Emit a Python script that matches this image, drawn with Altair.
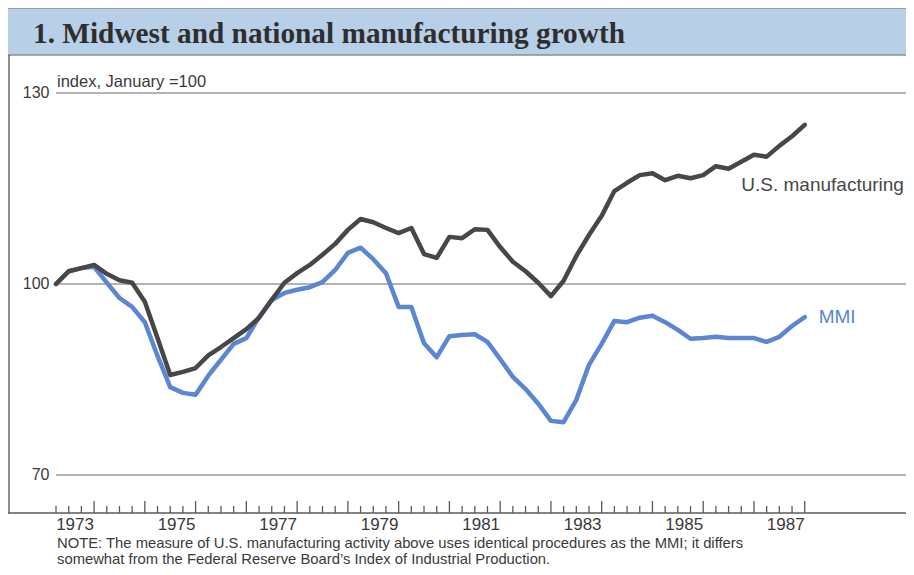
import altair as alt
import pandas as pd

# ---------------- data (quarterly, 1973Q1 .. 1987Q4, index Jan 1973 = 100) -------------
start_year = 1973
us_mfg = [100.0, 102.0, 102.5, 103.0, 101.6, 100.6, 100.2, 97.2, 91.5, 85.7,
          86.2, 86.8, 88.8, 90.1, 91.5, 92.9, 94.7, 97.5, 100.2, 101.7,
          103.0, 104.6, 106.3, 108.5, 110.2, 109.7, 108.8, 108.0, 108.8, 104.7,
          104.1, 107.4, 107.2, 108.6, 108.5, 105.8, 103.5, 102.0, 100.2, 98.1,
          100.5, 104.4, 107.7, 110.7, 114.6, 115.9, 117.1, 117.4, 116.3, 117.0,
          116.6, 117.1, 118.5, 118.1, 119.2, 120.3, 120.0, 121.7, 123.2, 125.0]
mmi = [100.0, 102.0, 102.5, 102.7, 100.2, 97.8, 96.4, 94.0, 88.7, 83.8,
       82.9, 82.6, 85.6, 88.1, 90.6, 91.5, 94.8, 97.5, 98.6, 99.1,
       99.5, 100.3, 102.2, 104.9, 105.7, 103.9, 101.7, 96.4, 96.4, 90.7,
       88.5, 91.8, 92.0, 92.1, 90.9, 88.2, 85.4, 83.5, 81.2, 78.5,
       78.3, 81.8, 87.3, 90.6, 94.2, 94.0, 94.7, 95.0, 94.0, 92.8,
       91.4, 91.5, 91.7, 91.5, 91.5, 91.5, 90.9, 91.7, 93.4, 94.8]
series_names = ["MMI", "U.S. manufacturing"]
series_colors = ["#5a86d2", "#474747"]
year_labels = [1973, 1975, 1977, 1979, 1981, 1983, 1985, 1987]
y_ticks = [70, 100, 130]

title_text = "1. Midwest and national manufacturing growth"
unit_text = "index, January =100"
note_lines = [
    "NOTE: The measure of U.S. manufacturing activity above uses identical procedures as the MMI;  it differs",
    "somewhat from the Federal Reserve Board\u2019s Index of Industrial Production.",
]

# ---------------- tables -------------
n = len(us_mfg)
rows = []
for name, vals in (("MMI", mmi), ("U.S. manufacturing", us_mfg)):
    for i, v in enumerate(vals):
        rows.append({"q": i, "value": v, "series": name})
lines_df = pd.DataFrame(rows)

ticks_df = pd.DataFrame({"q": list(range(n))})
ticks_df["major"] = (ticks_df["q"] % 4) == 3
small_ticks = ticks_df[~ticks_df["major"]]
big_ticks = ticks_df[ticks_df["major"]]

years_df = pd.DataFrame({"label": [str(y) for y in year_labels],
                         "q": [4 * (y - start_year) + 1.5 for y in year_labels]})

line_labels_df = pd.DataFrame({
    "series": series_names,
    "label": ["MMI", "U.S. manufacturing"],
    "q": [60.1, 54.0],
    "value": [94.8, 115.5],
})

W, H = 850, 505
xs = alt.Scale(domain=[0, 66.98], nice=False, zero=False)
ys = alt.Scale(domain=[64.03, 143.35], nice=False, zero=False)
cs = alt.Scale(domain=series_names, range=series_colors)
TXT = "#3a3a3a"
SANS = "Liberation Sans"

base_x = alt.X("q:Q", scale=xs, axis=None)

# title band
band = alt.Chart(pd.DataFrame({"a": [0]})).mark_rect(
    fill="#b8cfe8", stroke="#8d8d8d", strokeWidth=1.5
).encode(x=alt.value(-49), x2=alt.value(W + 4), y=alt.value(0), y2=alt.value(47))

title = alt.Chart(pd.DataFrame({"t": [title_text]})).mark_text(
    font="Liberation Serif", fontSize=29.3, fontWeight="bold", color="#2e2e2e",
    align="left", baseline="middle"
).encode(x=alt.value(-23), y=alt.value(26), text="t:N")

left_border = alt.Chart(pd.DataFrame({"a": [0]})).mark_rule(
    color="#6a6a6a", strokeWidth=1.5
).encode(x=alt.value(-47), y=alt.value(47), y2=alt.value(H))

baseline = alt.Chart(pd.DataFrame({"a": [0]})).mark_rule(
    color="#5a5a5a", strokeWidth=1.5
).encode(x=alt.value(-48), x2=alt.value(W), y=alt.value(H))

grid = alt.Chart(pd.DataFrame({"value": y_ticks})).mark_rule(
    color="#6b6b6b", strokeWidth=1.2
).encode(
    y=alt.Y("value:Q", scale=ys,
            axis=alt.Axis(values=y_ticks, grid=False, domain=False, ticks=False,
                          labelPadding=7, labelFontSize=16, labelFont=SANS,
                          labelColor=TXT, title=None)),
    x=alt.value(0), x2=alt.value(W),
)

unit = alt.Chart(pd.DataFrame({"t": [unit_text]})).mark_text(
    font=SANS, fontSize=16.5, color=TXT, align="left", baseline="alphabetic"
).encode(x=alt.value(1), y=alt.value(78.5), text="t:N")

series = alt.Chart(lines_df).mark_line(
    strokeWidth=4.5, strokeJoin="round", strokeCap="round"
).encode(
    x=base_x,
    y=alt.Y("value:Q", scale=ys),
    color=alt.Color("series:N", scale=cs, legend=None),
    order=alt.Order("q:Q"),
)

line_labels = alt.Chart(line_labels_df).mark_text(
    font=SANS, fontSize=19, align="left", baseline="middle"
).encode(
    x=base_x, y=alt.Y("value:Q", scale=ys),
    text="label:N",
    color=alt.Color("series:N", scale=cs, legend=None),
)

sticks = alt.Chart(small_ticks).mark_rule(color="#5a5a5a", strokeWidth=1.3).encode(
    x=base_x, y=alt.value(H - 7), y2=alt.value(H))
bticks = alt.Chart(big_ticks).mark_rule(color="#5a5a5a", strokeWidth=1.3).encode(
    x=base_x, y=alt.value(H - 12), y2=alt.value(H))

years = alt.Chart(years_df).mark_text(
    font=SANS, fontSize=17, color=TXT, align="center", baseline="middle"
).encode(x=base_x, y=alt.value(H + 12), text="label:N")

notes_df = pd.DataFrame({"t": note_lines, "k": [0, 1]})
note1 = alt.Chart(notes_df[notes_df.k == 0]).mark_text(
    font=SANS, fontSize=14.8, color=TXT, align="left", baseline="alphabetic"
).encode(x=alt.value(1), y=alt.value(H + 34.5), text="t:N")
note2 = alt.Chart(notes_df[notes_df.k == 1]).mark_text(
    font=SANS, fontSize=14.8, color=TXT, align="left", baseline="alphabetic"
).encode(x=alt.value(1), y=alt.value(H + 51), text="t:N")

chart = alt.layer(
    band, title, left_border, grid, baseline, sticks, bticks, unit,
    series, line_labels, years, note1, note2
).properties(
    width=W, height=H,
    padding={"left": 48, "top": 0, "right": 0, "bottom": 54},
    autosize=alt.AutoSizeParams(type="none"),
    background="white",
).configure_view(stroke=None)

chart.save("out.html", embed_options={"renderer": "svg", "actions": False})
